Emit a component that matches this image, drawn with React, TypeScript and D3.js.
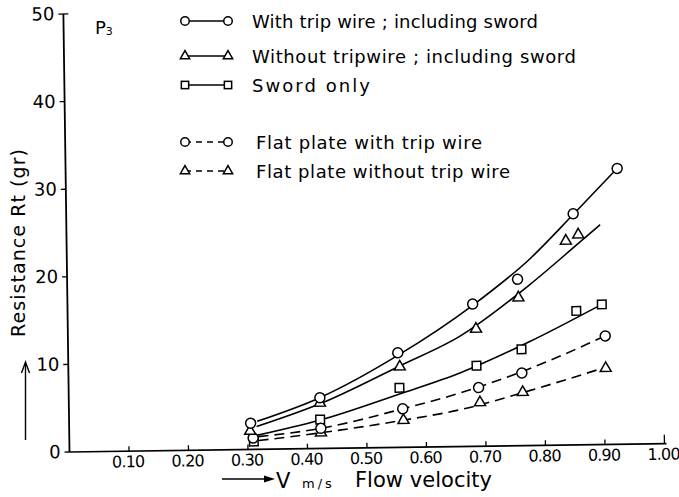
import React from 'react';
import * as d3 from 'd3';

// ---- axis ticks ----
const xTickValues = [0.1, 0.2, 0.3, 0.4, 0.5, 0.6, 0.7, 0.8, 0.9, 1.0];
const xTickLabels = ['0.10', '0.20', '0.30', '0.40', '0.50', '0.60', '0.70', '0.80', '0.90', '1.00'];
const yTickValues = [0, 10, 20, 30, 40, 50];
const yTickLabels = ['0', '10', '20', '30', '40', '50'];

// ---- measured points ----
const withTripX = [0.305, 0.422, 0.554, 0.681, 0.757, 0.852, 0.927];
const withTripY = [3.0, 5.8, 10.8, 16.25, 19.0, 26.4, 31.5];
const withoutTripX = [0.304, 0.422, 0.557, 0.686, 0.758, 0.839, 0.86];
const withoutTripY = [2.1, 5.2, 9.2, 13.4, 16.9, 23.3, 24.0];
const swordX = [0.31, 0.422, 0.556, 0.686, 0.762, 0.855, 0.898];
const swordY = [0.9, 3.3, 6.8, 9.2, 11.0, 15.3, 16.0];
const flatWithX = [0.309, 0.423, 0.561, 0.689, 0.762, 0.903];
const flatWithY = [1.3, 2.3, 4.4, 6.7, 8.3, 12.4];
const flatWithoutX = [0.423, 0.562, 0.691, 0.763, 0.903];
const flatWithoutY = [1.8, 3.1, 5.0, 6.1, 8.7];

// ---- faired curves ----
const withTripCurveX = [0.316, 0.422, 0.554, 0.681, 0.778, 0.852, 0.927];
const withTripCurveY = [3.2, 5.8, 10.5, 16.1, 21.3, 26.3, 31.5];
const withoutTripCurveX = [0.315, 0.422, 0.557, 0.659, 0.778, 0.86, 0.897];
const withoutTripCurveY = [2.6, 5.1, 9.3, 12.6, 18.4, 23.0, 25.1];
const swordCurveX = [0.315, 0.422, 0.556, 0.658, 0.777, 0.898];
const swordCurveY = [1.6, 3.25, 6.1, 8.4, 11.9, 16.0];
const flatWithCurveX = [0.318, 0.423, 0.561, 0.657, 0.776, 0.903];
const flatWithCurveY = [1.45, 2.3, 4.4, 6.1, 8.8, 12.4];
const flatWithoutCurveX = [0.318, 0.423, 0.562, 0.657, 0.776, 0.897];
const flatWithoutCurveY = [1.0, 1.8, 3.1, 4.2, 6.3, 8.7];

// ---- legend ----
const legendLabels = [
  'With trip wire ; including sword',
  'Without tripwire ; including sword',
  'Sword  only',
  'Flat plate with trip wire',
  'Flat plate without trip wire',
];
const legendMarkers = ['circle', 'triangle', 'square', 'circle', 'triangle'];
const legendDashed = [false, false, false, true, true];

const FONT = 'DejaVu Sans, sans-serif';

type Pt = [number, number];
const zip = (xs: number[], ys: number[]): Pt[] => xs.map((v, i) => [v, ys[i]] as Pt);

function Marker({ kind, cx, cy, s = 1 }: { kind: string; cx: number; cy: number; s?: number }) {
  const common = { fill: '#fff', stroke: '#000', strokeWidth: 1.5 };
  if (kind === 'circle') return <circle cx={cx} cy={cy} r={5 * s} {...common} />;
  if (kind === 'square') {
    const h = 4.3 * s;
    return <rect x={cx - h} y={cy - h} width={2 * h} height={2 * h} {...common} />;
  }
  const p = d3.symbol().type(d3.symbolTriangle).size(52 * s * s)() as string;
  return <path d={p} transform={`translate(${cx},${cy})`} {...common} />;
}

export default function App() {
  const x = d3.scaleLinear().domain([0, 1]).range([69.5, 664.5]);
  const y = d3.scaleLinear().domain([0, 50]).range([452, 14]);
  const line = d3
    .line<Pt>()
    .x((d) => x(d[0]))
    .y((d) => y(d[1]))
    .curve(d3.curveMonotoneX);

  const curves = [
    { pts: zip(withTripCurveX, withTripCurveY), dashed: false },
    { pts: zip(withoutTripCurveX, withoutTripCurveY), dashed: false },
    { pts: zip(swordCurveX, swordCurveY), dashed: false },
    { pts: zip(flatWithCurveX, flatWithCurveY), dashed: true },
    { pts: zip(flatWithoutCurveX, flatWithoutCurveY), dashed: true },
  ];
  const points = [
    { pts: zip(flatWithoutX, flatWithoutY), kind: 'triangle' },
    { pts: zip(swordX, swordY), kind: 'square' },
    { pts: zip(flatWithX, flatWithY), kind: 'circle' },
    { pts: zip(withoutTripX, withoutTripY), kind: 'triangle' },
    { pts: zip(withTripX, withTripY), kind: 'circle' },
  ];

  const legendY = [21, 56, 85, 142, 171];
  const legendTextX = [252, 252, 252, 256, 256];
  const legendTextW = [286, 324, 118, 226, 254];

  return (
    <svg
      width={679}
      height={497}
      style={{ position: 'absolute', left: 0, top: 0, background: '#fff' }}
      fontFamily={FONT}
    >
      <rect width={679} height={497} fill="#fff" />
      <g transform="rotate(-0.8, 69.5, 452)">
        {/* axes */}
        <line x1={x(0)} x2={x(1) + 2} y1={y(0)} y2={y(0)} stroke="#000" strokeWidth={1.6} />
        <line x1={x(0)} x2={x(0)} y1={y(0)} y2={y(50)} stroke="#000" strokeWidth={1.8} />
        {xTickValues.map((v, i) => (
          <g key={'xt' + i}>
            <line x1={x(v)} x2={x(v)} y1={y(0)} y2={y(0) - (v === 1 ? 9 : 5)} stroke="#000" strokeWidth={1.3} />
            <text x={x(v) - 1} y={y(0) + 16} fontSize={16} textAnchor="middle" letterSpacing={-0.8}>
              {xTickLabels[i]}
            </text>
          </g>
        ))}
        {yTickValues.map((v, i) => (
          <g key={'yt' + i}>
            <line
              x1={x(0) - 5}
              x2={v === 50 ? x(0) + 5 : x(0)}
              y1={y(v)}
              y2={y(v)}
              stroke="#000"
              strokeWidth={1.3}
            />
            <text x={x(0) - 9} y={y(v) + 6} fontSize={18} textAnchor="end">
              {yTickLabels[i]}
            </text>
          </g>
        ))}

        {/* curves */}
        {curves.map((c, i) => (
          <path
            key={'c' + i}
            d={line(c.pts) as string}
            fill="none"
            stroke="#000"
            strokeWidth={1.6}
            strokeDasharray={c.dashed ? '10,6' : undefined}
          />
        ))}
        {/* markers */}
        {points.map((s, i) =>
          s.pts.map((p, j) => <Marker key={'m' + i + '_' + j} kind={s.kind} cx={x(p[0])} cy={y(p[1])} />)
        )}
      </g>

      {/* P3 label */}
      <text x={95} y={34} fontSize={18}>
        P
        <tspan fontSize={11} dy={1}>
          3
        </tspan>
      </text>

      {/* legend */}
      {legendLabels.map((lab, i) => (
        <g key={'lg' + i}>
          <line
            x1={185}
            x2={228}
            y1={legendY[i]}
            y2={legendY[i]}
            stroke="#000"
            strokeWidth={1.4}
            strokeDasharray={legendDashed[i] ? '6,5' : undefined}
          />
          <Marker kind={legendMarkers[i]} cx={185} cy={legendY[i]} s={0.85} />
          <Marker kind={legendMarkers[i]} cx={228} cy={legendY[i]} s={0.85} />
          <text
            x={legendTextX[i]}
            y={legendY[i] + 6.5}
            fontSize={18}
            textLength={legendTextW[i]}
            lengthAdjust="spacing"
          >
            {lab}
          </text>
        </g>
      ))}

      {/* y axis title */}
      <text
        transform="translate(25,243) rotate(-90)"
        fontSize={19}
        textAnchor="middle"
        textLength={188}
        lengthAdjust="spacing"
      >
        Resistance  Rt (gr)
      </text>
      <line x1={25.5} x2={25.5} y1={440} y2={364} stroke="#000" strokeWidth={1.4} />
      <path d="M21.5,373 L25.5,362 L29.5,373" fill="none" stroke="#000" strokeWidth={1.4} />

      {/* x axis title */}
      <line x1={222} x2={268} y1={479} y2={479} stroke="#000" strokeWidth={1.4} />
      <path d="M264,475.5 L275,479 L264,482.5 Z" fill="#000" />
      <text x={276} y={488} fontSize={21}>
        V
      </text>
      <text x={302} y={488} fontSize={13} letterSpacing={3}>
        m/s
      </text>
      <text x={355} y={487} fontSize={21} textLength={137} lengthAdjust="spacing">
        Flow velocity
      </text>
    </svg>
  );
}
